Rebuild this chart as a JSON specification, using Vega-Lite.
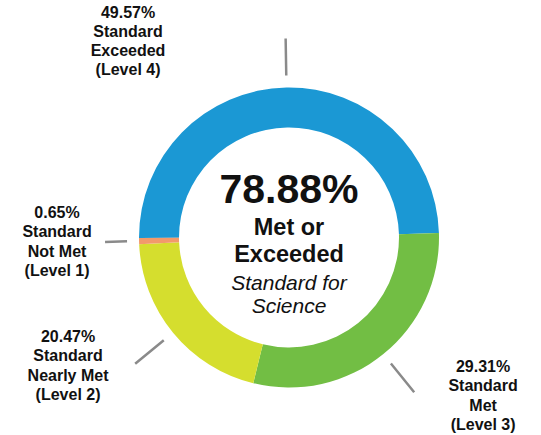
{
  "$schema": "https://vega.github.io/schema/vega-lite/v6.json",
  "width": 504,
  "height": 395,
  "autosize": "none",
  "padding": {"left": 37, "top": 40, "right": 0, "bottom": 0},
  "background": "white",
  "view": {"stroke": null},
  "config": {"text": {"font": "Liberation Sans", "color": "#111111"}},
  "data": {
    "values": [
      {"level": 4, "order": 1, "pct": 49.57, "label": "49.57%\nStandard\nExceeded\n(Level 4)"},
      {"level": 3, "order": 2, "pct": 29.31, "label": "29.31%\nStandard\nMet\n(Level 3)"},
      {"level": 2, "order": 3, "pct": 20.47, "label": "20.47%\nStandard\nNearly Met\n(Level 2)"},
      {"level": 1, "order": 4, "pct": 0.65, "label": "0.65%\nStandard\nNot Met\n(Level 1)"}
    ]
  },
  "layer": [
    {
      "mark": {"type": "arc", "innerRadius": 110, "outerRadius": 150},
      "encoding": {
        "theta": {"field": "pct", "type": "quantitative", "stack": true, "scale": {"domain": [0, 100], "range": [4.709, 10.9922]}},
        "order": {"field": "order", "type": "quantitative"},
        "color": {"field": "level", "type": "nominal", "legend": null,
          "scale": {"domain": [4, 3, 2, 1], "range": ["#1b98d4", "#72be44", "#d5de2e", "#f29a6b"]}}
      }
    },
    {
      "mark": {"type": "arc", "innerRadius": 162, "outerRadius": 199, "padAngle": 3, "fillOpacity": 0, "stroke": "#8a8a8a", "strokeWidth": 2.5},
      "encoding": {
        "theta": {"field": "pct", "type": "quantitative", "stack": true},
        "order": {"field": "order", "type": "quantitative"},
        "strokeOpacity": {"condition": {"test": "datum.level != 1", "value": 1}, "value": 0}
      }
    },
    {
      "mark": {"type": "arc", "innerRadius": 162, "outerRadius": 184, "padAngle": 3, "fillOpacity": 0, "stroke": "#8a8a8a", "strokeWidth": 2.5},
      "encoding": {
        "theta": {"field": "pct", "type": "quantitative", "stack": true},
        "order": {"field": "order", "type": "quantitative"},
        "strokeOpacity": {"condition": {"test": "datum.level == 1", "value": 1}, "value": 0}
      }
    },
    {
      "mark": {"type": "text", "radius": 175, "dx": -158, "dy": -45, "align": "center", "baseline": "alphabetic", "lineBreak": "\n", "fontSize": 16, "fontWeight": "bold", "lineHeight": 19.3},
      "encoding": {
        "theta": {"field": "pct", "type": "quantitative", "stack": true},
        "order": {"field": "order", "type": "quantitative"},
        "text": {"condition": {"test": "datum.level == 4", "field": "label"}, "value": ""}
      }
    },
    {
      "mark": {"type": "text", "radius": 175, "dx": 84, "dy": -1.5, "align": "center", "baseline": "alphabetic", "lineBreak": "\n", "fontSize": 16, "fontWeight": "bold", "lineHeight": 19.3},
      "encoding": {
        "theta": {"field": "pct", "type": "quantitative", "stack": true},
        "order": {"field": "order", "type": "quantitative"},
        "text": {"condition": {"test": "datum.level == 3", "field": "label"}, "value": ""}
      }
    },
    {
      "mark": {"type": "text", "radius": 175, "dx": -85.7, "dy": -6.5, "align": "center", "baseline": "alphabetic", "lineBreak": "\n", "fontSize": 16, "fontWeight": "bold", "lineHeight": 19.3},
      "encoding": {
        "theta": {"field": "pct", "type": "quantitative", "stack": true},
        "order": {"field": "order", "type": "quantitative"},
        "text": {"condition": {"test": "datum.level == 2", "field": "label"}, "value": ""}
      }
    },
    {
      "mark": {"type": "text", "radius": 175, "dx": -57, "dy": -23.6, "align": "center", "baseline": "alphabetic", "lineBreak": "\n", "fontSize": 16, "fontWeight": "bold", "lineHeight": 19.3},
      "encoding": {
        "theta": {"field": "pct", "type": "quantitative", "stack": true},
        "order": {"field": "order", "type": "quantitative"},
        "text": {"condition": {"test": "datum.level == 1", "field": "label"}, "value": ""}
      }
    },
    {
      "data": {"values": [{"t": "78.88%"}]},
      "mark": {"type": "text", "align": "center", "baseline": "alphabetic", "dy": -34.5, "fontSize": 41, "fontWeight": "bold"},
      "encoding": {"text": {"field": "t"}}
    },
    {
      "data": {"values": [{"t": "Met or\nExceeded"}]},
      "mark": {"type": "text", "align": "center", "baseline": "alphabetic", "dy": -2.5, "fontSize": 23.5, "fontWeight": "bold", "lineBreak": "\n", "lineHeight": 27},
      "encoding": {"text": {"field": "t"}}
    },
    {
      "data": {"values": [{"t": "Standard for\nScience"}]},
      "mark": {"type": "text", "align": "center", "baseline": "alphabetic", "dy": 52.5, "fontSize": 21, "fontStyle": "italic", "lineBreak": "\n", "lineHeight": 22.5},
      "encoding": {"text": {"field": "t"}}
    }
  ]
}
